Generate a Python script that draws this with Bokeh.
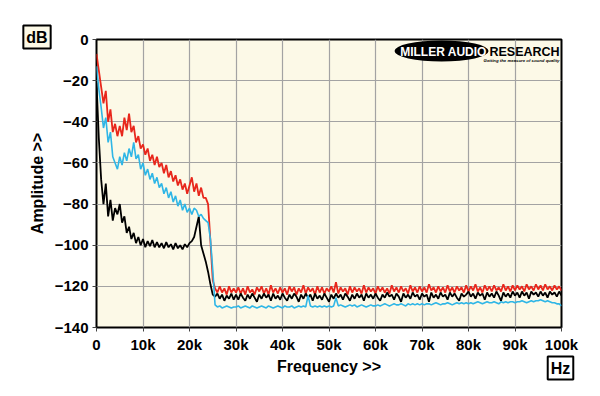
from bokeh.plotting import figure
from bokeh.models import Range1d, FixedTicker, Label
from bokeh.embed import file_html
from bokeh.resources import INLINE

# ---------------- data ----------------
FREQ_STEP_KHZ = 0.5   # spectrum bins every 0.5 kHz, 0 .. 100 kHz

RED_DB = [
    -7, -15, -23, -31, -25, -40, -34, -45, -41, -47,
    -42, -47, -38, -44, -36, -45, -42, -50, -47, -53,
    -51, -56, -53, -59, -56, -61, -57, -62, -60, -65,
    -61, -67, -64, -69, -66, -71, -68, -73, -70, -75,
    -71, -67, -74, -70, -76, -72, -77, -77, -80, -98,
    -117, -121, -123, -120, -123, -121, -124, -120, -123, -121,
    -123, -120.5, -123.5, -121, -124, -120, -123, -121.5, -124, -120.5,
    -122.5, -120, -123.5, -121, -124, -119.5, -123, -121, -123.5, -120.5,
    -123, -121, -124, -120, -122.5, -120.5, -124, -121, -123, -119.5,
    -123.5, -120.5, -122.5, -121, -124, -120, -123, -120.5, -123.5, -121,
    -122.5, -120, -123, -118, -123.5, -120.5, -122.5, -121, -124, -120,
    -123, -120.5, -122.5, -121, -123.5, -119.5, -123, -120.5, -122.5, -121,
    -123.5, -120, -122.5, -120.5, -123, -121, -123.5, -119.5, -122.5, -120.5,
    -123, -120, -122.5, -121, -123.5, -119.5, -122.5, -120.5, -123, -120,
    -122.5, -120.5, -123, -119, -122, -120.5, -123, -120, -122.5, -120.5,
    -123, -119.5, -122.5, -120.5, -123, -120, -122, -120.5, -123, -119.5,
    -122.5, -120, -122, -119, -122.5, -120.5, -123, -119.5, -122, -120,
    -122.5, -119.5, -122, -120.5, -122.5, -119, -122, -120, -122.5, -119.5,
    -122, -119.5, -121.5, -120, -122.5, -119, -121.5, -120, -122, -119,
    -121.5, -119.5, -122, -119, -121.5, -120, -122, -119.5, -121.5, -120,
    -122,
]

BLUE_DB = [
    -13, -24, -33, -43, -38, -50, -45, -57, -60, -63,
    -57, -61, -55, -59, -53, -57, -50, -58, -56, -63,
    -60, -66, -63, -68, -65, -70, -67, -72, -70, -75,
    -72, -77, -74, -79, -76, -81, -78, -83, -80, -84,
    -82, -85, -82, -83, -86, -85, -87, -88, -89, -97,
    -112, -129, -130, -129.5, -130.5, -130, -129.5, -130, -130.5, -130,
    -130, -129.5, -130.5, -130, -129.5, -130, -130.5, -129.5, -130, -130.5,
    -130, -129.5, -130, -130.5, -129.5, -130, -130.5, -130, -129.5, -130,
    -130.5, -129.5, -130, -130, -129.5, -130.5, -130, -129.5, -130, -129.5,
    -130, -124.5, -129.5, -130, -129.5, -130, -129.5, -130, -129.5, -130,
    -129.5, -130, -129.5, -125.5, -129.5, -129, -129.5, -130, -129.5, -129,
    -129.5, -129, -130, -129.5, -129, -129.5, -130, -129.5, -129, -129.5,
    -129.5, -129, -129.5, -129, -128.5, -129, -129.5, -129, -128.5, -129,
    -129, -128.5, -129, -129.5, -128.5, -129, -128.5, -129, -128.5, -129,
    -128.5, -129, -128.5, -128.5, -129, -128.5, -128, -128.5, -129, -128.5,
    -128.5, -128, -128.5, -129, -128.5, -128, -128.5, -128, -128.5, -128,
    -128.5, -128, -128.5, -128, -127.5, -128, -128.5, -128, -127.5, -128,
    -128, -127.5, -128, -128.5, -127.5, -128, -127.5, -128, -127.5, -127.5,
    -128, -127.5, -127.5, -127, -127.5, -128, -127.5, -127, -127.5, -127,
    -127, -126.5, -127, -127.5, -127, -127.5, -128, -128, -128.5, -128.5,
    -129.5,
]

BLACK_DB = [
    -21, -48, -68, -80, -70, -86, -78, -88, -82, -85,
    -80, -89, -86, -94, -91, -97, -94, -99, -96, -100,
    -97, -101, -98, -100.5, -97.5, -101, -98.5, -101, -99, -101.5,
    -98.5, -101, -99.5, -102, -99, -101.5, -100, -102, -99.5, -101,
    -99, -98, -96, -91, -86, -100, -104, -108, -113, -119,
    -124, -125, -123.5, -126, -124, -127, -124.5, -126, -123.5, -126.5,
    -124, -126.5, -123.5, -125.5, -127, -124, -126, -123.5, -125.5, -127.5,
    -124, -126, -123.5, -125.5, -124, -127, -123.5, -126, -124.5, -126.5,
    -123.5, -125.5, -127, -124, -126, -123.5, -125, -127.5, -124, -126,
    -123.5, -125.5, -124, -127, -123.5, -126, -124.5, -126.5, -123.5, -125.5,
    -127.5, -124, -126, -123.5, -125.5, -124, -126.5, -123.5, -125, -127,
    -124, -126, -123.5, -125.5, -124, -127, -123.5, -125.5, -124, -126,
    -123.5, -125.5, -127, -124, -125.5, -123, -125, -124, -126.5, -123.5,
    -125, -127.5, -123.5, -125.5, -124, -126, -123, -125, -124, -126.5,
    -123.5, -125, -124, -127.5, -123, -125.5, -124, -126, -123, -125,
    -124, -126.5, -123, -125, -123.5, -125.5, -127, -123.5, -125, -124,
    -122.5, -125, -123.5, -126, -123, -124.5, -123.5, -126.5, -123, -125,
    -123.5, -125.5, -122.5, -124.5, -127, -123, -125, -123.5, -125.5, -122.5,
    -124.5, -123, -125.5, -122.5, -124.5, -123, -126, -122.5, -124, -123,
    -125, -122.5, -124.5, -123, -125.5, -122.5, -124, -123, -125, -122.5,
    -124.5,
]

X_TICKS = [0, 10, 20, 30, 40, 50, 60, 70, 80, 90, 100]
X_TICK_LABELS = ["0", "10k", "20k", "30k", "40k", "50k", "60k", "70k", "80k", "90k", "100k"]
Y_TICKS = [-140, -120, -100, -80, -60, -40, -20, 0]

freq = [i * FREQ_STEP_KHZ for i in range(len(RED_DB))]

FONT = "Liberation Sans"
BG = "#FCF9E7"

p = figure(width=592, height=388, output_backend="svg", toolbar_location=None,
           x_range=Range1d(0, 100), y_range=Range1d(-140, 0),
           min_border_left=96, min_border_right=31, min_border_top=39, min_border_bottom=61)

p.background_fill_color = BG
p.border_fill_color = "white"
p.outline_line_color = "black"
p.outline_line_width = 2

for ax in (p.xaxis, p.yaxis):
    ax.axis_line_color = None
    ax.major_tick_line_color = "#444444"
    ax.major_tick_out = 4
    ax.major_tick_in = 0
    ax.minor_tick_line_color = None
    ax.major_label_text_font = FONT
    ax.major_label_text_font_style = "bold"
    ax.major_label_text_font_size = "15px"
    ax.major_label_text_color = "black"
    ax.major_label_standoff = 4
    ax.axis_label_text_font = FONT
    ax.axis_label_text_font_style = "bold"
    ax.axis_label_text_font_size = "16px"
    ax.axis_label_text_color = "black"

p.xaxis.ticker = FixedTicker(ticks=X_TICKS)
p.xaxis.major_label_overrides = dict(zip(X_TICKS, X_TICK_LABELS))
p.xaxis.axis_label = "Frequency >>"
p.xaxis.axis_label_standoff = 2
p.yaxis.ticker = FixedTicker(ticks=Y_TICKS)
p.yaxis.axis_label = "Amplitude >>"
p.yaxis.axis_label_standoff = 6

p.xgrid.grid_line_color = "#A3A3A3"
p.ygrid.grid_line_color = "#A3A3A3"
p.xgrid.grid_line_width = 1.2
p.ygrid.grid_line_width = 1.2

p.line(freq, RED_DB, line_color="#E8271C", line_width=1.8)
p.line(freq, BLACK_DB, line_color="#000000", line_width=1.8)
p.line(freq, BLUE_DB, line_color="#2FB6E6", line_width=1.6)

# logo
p.ellipse(x=[74.2], y=[-5.6], width=94, height=21, width_units="screen",
          height_units="screen", fill_color="black", line_color=None)
p.add_layout(Label(x=347, y=276, x_units="screen", y_units="screen", text="MILLER AUDIO",
                   text_font=FONT, text_font_style="bold", text_font_size="12px",
                   text_color="white", text_align="center", text_baseline="middle"))
p.add_layout(Label(x=393, y=276, x_units="screen", y_units="screen", text="RESEARCH",
                   text_font=FONT, text_font_style="bold", text_font_size="12.5px",
                   text_color="black", text_align="left", text_baseline="middle"))
p.add_layout(Label(x=463, y=267, x_units="screen", y_units="screen",
                   text="Getting the measure of sound quality",
                   text_font=FONT, text_font_style="bold italic", text_font_size="4.3px",
                   text_color="black", text_align="right", text_baseline="middle"))

# unit boxes (placed in side panels so they are not clipped to the frame)
p.add_layout(Label(x=-59.5, y=2.5, x_units="screen", y_units="screen", text="dB",
                   text_font=FONT, text_font_style="bold", text_font_size="16px",
                   text_color="black", text_align="center", text_baseline="middle",
                   background_fill_color=BG, border_line_color="black",
                   border_line_width=2, padding=3), "above")
p.add_layout(Label(x=-1, y=-40.5, x_units="screen", y_units="screen", text="Hz",
                   text_font=FONT, text_font_style="bold", text_font_size="16px",
                   text_color="black", text_align="center", text_baseline="middle",
                   background_fill_color="white", border_line_color="black",
                   border_line_width=2, padding=3), "right")

open("out.html", "w").write(file_html(p, INLINE))
